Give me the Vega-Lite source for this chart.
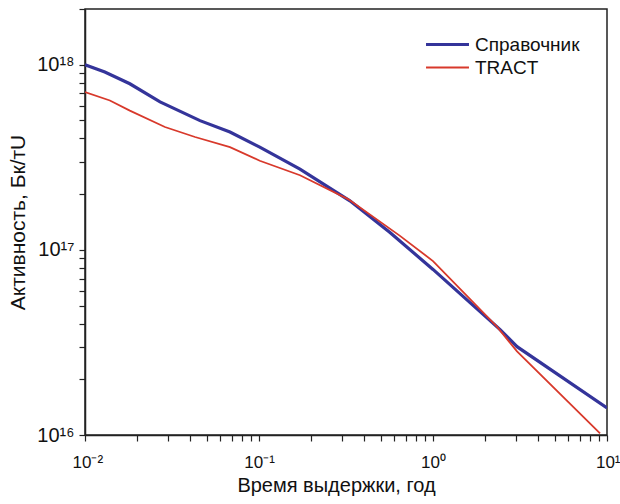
{
  "$schema": "https://vega.github.io/schema/vega-lite/v6.json",
  "autosize": {"type": "none"},
  "padding": {"left": 85, "top": 9, "right": 13, "bottom": 69},
  "width": 522,
  "height": 426,
  "background": "white",
  "config": {
    "view": {"stroke": "#222222", "strokeWidth": 1.5},
    "font": "Liberation Sans",
    "axis": {"grid": false, "domainColor": "#222222", "domainWidth": 1.5, "tickColor": "#222222", "tickWidth": 1.2, "labelColor": "#111111", "titleColor": "#111111", "titleFontWeight": "normal", "labelFont": "Liberation Sans", "titleFont": "Liberation Sans"}
  },
  "data": {
    "values": [
      {"t": 0.01, "a": 1.0e18, "s": "Справочник"},
      {"t": 0.013, "a": 9.13e17, "s": "Справочник"},
      {"t": 0.0181, "a": 7.89e17, "s": "Справочник"},
      {"t": 0.027, "a": 6.3e17, "s": "Справочник"},
      {"t": 0.0458, "a": 4.99e17, "s": "Справочник"},
      {"t": 0.0681, "a": 4.33e17, "s": "Справочник"},
      {"t": 0.101, "a": 3.59e17, "s": "Справочник"},
      {"t": 0.172, "a": 2.73e17, "s": "Справочник"},
      {"t": 0.333, "a": 1.84e17, "s": "Справочник"},
      {"t": 0.566, "a": 1.24e17, "s": "Справочник"},
      {"t": 1.0, "a": 7.84e16, "s": "Справочник"},
      {"t": 2.43, "a": 3.71e16, "s": "Справочник"},
      {"t": 3.04, "a": 3.0e16, "s": "Справочник"},
      {"t": 10.0, "a": 1.4e16, "s": "Справочник"},
      {"t": 0.01, "a": 7.11e17, "s": "TRACT"},
      {"t": 0.0139, "a": 6.41e17, "s": "TRACT"},
      {"t": 0.0181, "a": 5.65e17, "s": "TRACT"},
      {"t": 0.0288, "a": 4.61e17, "s": "TRACT"},
      {"t": 0.0429, "a": 4.07e17, "s": "TRACT"},
      {"t": 0.0681, "a": 3.59e17, "s": "TRACT"},
      {"t": 0.101, "a": 3.03e17, "s": "TRACT"},
      {"t": 0.172, "a": 2.53e17, "s": "TRACT"},
      {"t": 0.325, "a": 1.88e17, "s": "TRACT"},
      {"t": 0.646, "a": 1.19e17, "s": "TRACT"},
      {"t": 1.0, "a": 8.7e16, "s": "TRACT"},
      {"t": 2.33, "a": 3.85e16, "s": "TRACT"},
      {"t": 3.04, "a": 2.83e16, "s": "TRACT"},
      {"t": 9.12, "a": 1.02e16, "s": "TRACT"}
    ]
  },
  "mark": {"type": "line", "clip": true},
  "encoding": {
    "x": {
      "field": "t", "type": "quantitative",
      "scale": {"type": "log", "domain": [0.01, 10], "nice": false},
      "axis": {
        "title": "Время выдержки, год", "titleFontSize": 20, "titlePadding": 5, "titleX": 251,
        "values": [0.01, 0.02, 0.03, 0.04, 0.05, 0.06, 0.07, 0.08, 0.09, 0.1, 0.2, 0.3, 0.4, 0.5, 0.6, 0.7, 0.8, 0.9, 1, 2, 3, 4, 5, 6, 7, 8, 9, 10],
        "labelExpr": "datum.value == 0.01 ? '10⁻²' : datum.value == 0.1 ? '10⁻¹' : datum.value == 1 ? '10⁰' : datum.value == 10 ? '10¹' : ''",
        "labelFontSize": 17, "labelPadding": 13, "tickSize": 6, "labelFlush": true, "labelFlushOffset": 13, "labelOverlap": false
      }
    },
    "y": {
      "field": "a", "type": "quantitative",
      "scale": {"type": "log", "domain": [1e16, 2e18], "nice": false},
      "axis": {
        "title": "Активность, Бк/тU", "titleFontSize": 21, "titlePadding": 8,
        "values": [1e16, 2e16, 3e16, 4e16, 5e16, 6e16, 7e16, 8e16, 9e16, 1e17, 2e17, 3e17, 4e17, 5e17, 6e17, 7e17, 8e17, 9e17, 1e18, 2e18],
        "labelExpr": "datum.value == 1e16 ? '10¹⁶' : datum.value == 1e17 ? '10¹⁷' : datum.value == 1e18 ? '10¹⁸' : ''",
        "labelFontSize": 20, "labelPadding": 5, "tickSize": 6, "labelFlush": false, "labelOverlap": false
      }
    },
    "color": {
      "field": "s", "type": "nominal",
      "scale": {"domain": ["Справочник", "TRACT"], "range": ["#34349a", "#d8392b"]},
      "legend": {
        "title": null, "orient": "none", "legendX": 353, "legendY": 26,
        "symbolType": "M-3,0H3", "symbolSize": 205,
        "labelFontSize": 19, "labelColor": "#111111", "rowPadding": 3, "labelOffset": 18
      }
    },
    "strokeWidth": {
      "field": "s", "type": "nominal",
      "scale": {"domain": ["Справочник", "TRACT"], "range": [3.2, 1.8]},
      "legend": {
        "title": null, "orient": "none", "legendX": 353, "legendY": 26,
        "symbolType": "M-3,0H3", "symbolSize": 205,
        "labelFontSize": 19, "labelColor": "#111111", "rowPadding": 3, "labelOffset": 18
      }
    }
  }
}
